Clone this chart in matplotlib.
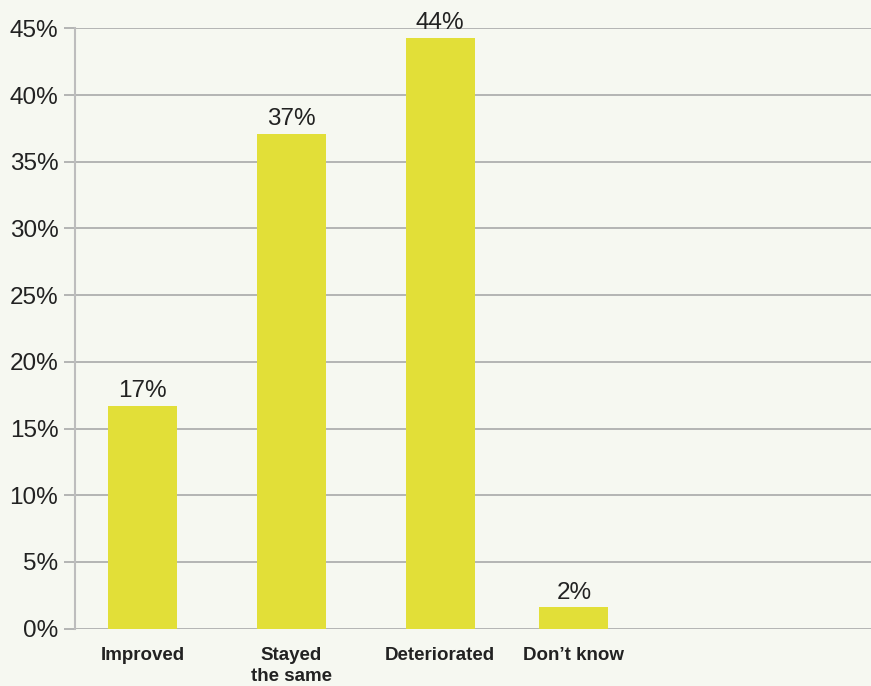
import matplotlib.pyplot as plt
from matplotlib.ticker import FuncFormatter

# ---------- Data ----------
categories = ["Improved", "Stayed\nthe same", "Deteriorated", "Don\u2019t know"]
slots = [0, 1, 2, 2.9]          # category slot along the x axis
values = [16.7, 37.1, 44.3, 1.6]
labels = ["17%", "37%", "44%", "2%"]
yticks = [0, 5, 10, 15, 20, 25, 30, 35, 40, 45]

BG = "#f6f8f1"
BAR = "#e2df38"
GRID = "#a9a9a9"
TEXT = "#222222"

plt.rcParams['font.family'] = ['Liberation Sans', 'DejaVu Sans']

fig = plt.figure(figsize=(8.71, 6.86), dpi=100, facecolor=BG)
ax = fig.add_axes([75 / 871, 57.3 / 686, 796 / 871, 600.4 / 686], facecolor=BG)

bars = ax.bar(slots, values, width=0.464, color=BAR, zorder=3)
for b, lab in zip(bars, labels):
    ax.annotate(lab, (b.get_x() + b.get_width() / 2, b.get_height()),
                xytext=(0, 2.5), textcoords="offset points",
                ha="center", va="bottom", fontsize=17.5, color=TEXT, zorder=4)

ax.set_ylim(0, 45)
ax.set_xlim(-0.455, 4.898)
ax.set_yticks(yticks)
ax.yaxis.set_major_formatter(FuncFormatter(lambda v, p: f"{v:.0f}%"))
ax.set_xticks(slots)
ax.set_xticklabels(categories, fontsize=13.5, fontweight="bold", color=TEXT,
                   linespacing=1.3)
ax.tick_params(axis="x", length=0, pad=13)
ax.tick_params(axis="y", length=8, width=1.2, color=GRID, labelsize=17.5,
               labelcolor=TEXT, pad=4)

ax.grid(axis="y", color=GRID, linewidth=1.2, zorder=0)
for s in ["top", "right", "bottom"]:
    ax.spines[s].set_visible(False)
ax.spines["left"].set_color("#bdbdbd")
ax.spines["left"].set_linewidth(1.5)

fig.savefig("out.png", dpi=100, facecolor=BG)
